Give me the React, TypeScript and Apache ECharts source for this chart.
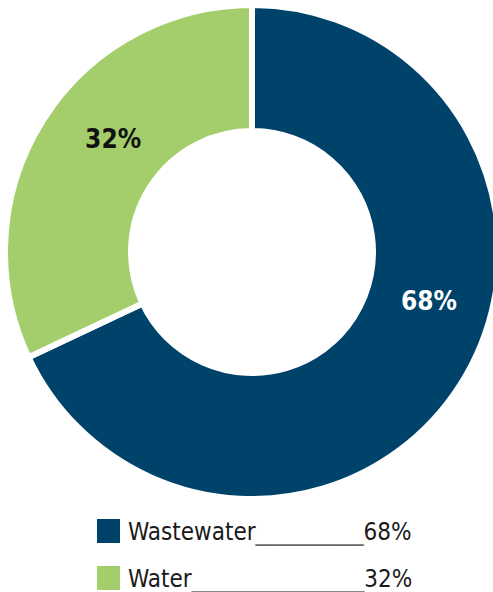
import React, { useEffect, useRef } from "react";
import * as echarts from "echarts";

const categories = ["Wastewater", "Water"];
const values = [68, 32];
const colors = ["#00436A", "#A3CE6B"];
const labelColors = ["#FFFFFF", "#111111"];
const labelOffsets = [[19, -51], [19, -13]];
const legendFill = ["__________", "________________"];
const legendTops = [517, 564];

const FONT = '"DejaVu Sans Condensed", Roboto, sans-serif';

export default function App() {
  const ref = useRef<HTMLDivElement>(null);
  useEffect(() => {
    if (!ref.current) return;
    const chart = echarts.init(ref.current, undefined, { renderer: "svg" });
    chart.setOption({
      animation: false,
      legend: categories.map((cat, idx) => ({
        orient: "horizontal",
        left: 95,
        top: legendTops[idx],
        padding: 0,
        itemWidth: 25,
        itemHeight: 26,
        icon: "rect",
        selectedMode: false,
        data: [cat],
        formatter: (name: string) => {
          const i = categories.indexOf(name);
          return "{n|" + name + "}{u|" + legendFill[i] + "}{n|" + values[i] + "%}";
        },
        textStyle: {
          fontFamily: FONT,
          fontSize: 24,
          color: "#1a1a1a",
          padding: [2, 0, 0, 2],
          rich: {
            n: { fontFamily: FONT, fontSize: 24, color: "#1a1a1a" },
            u: { fontFamily: FONT, fontSize: 24, color: "#6a6a6a" },
          },
        },
      })),
      series: [
        {
          type: "pie",
          center: [252, 252],
          radius: [121, 247],
          startAngle: 90,
          clockwise: true,
          avoidLabelOverlap: false,
          itemStyle: { borderColor: "#ffffff", borderWidth: 6 },
          emphasis: { disabled: true },
          label: {
            show: true,
            position: "inside",
            formatter: "{c}%",
            fontFamily: FONT,
            fontWeight: "bold",
            fontSize: 26,
          },
          labelLine: { show: false },
          data: categories.map((name, i) => ({
            name,
            value: values[i],
            itemStyle: { color: colors[i] },
            label: { color: labelColors[i], offset: labelOffsets[i] },
          })),
        },
      ],
    });
    return () => chart.dispose();
  }, []);
  return <div ref={ref} style={{ width: 493, height: 592, position: "absolute", left: 0, top: 0 }} />;
}
